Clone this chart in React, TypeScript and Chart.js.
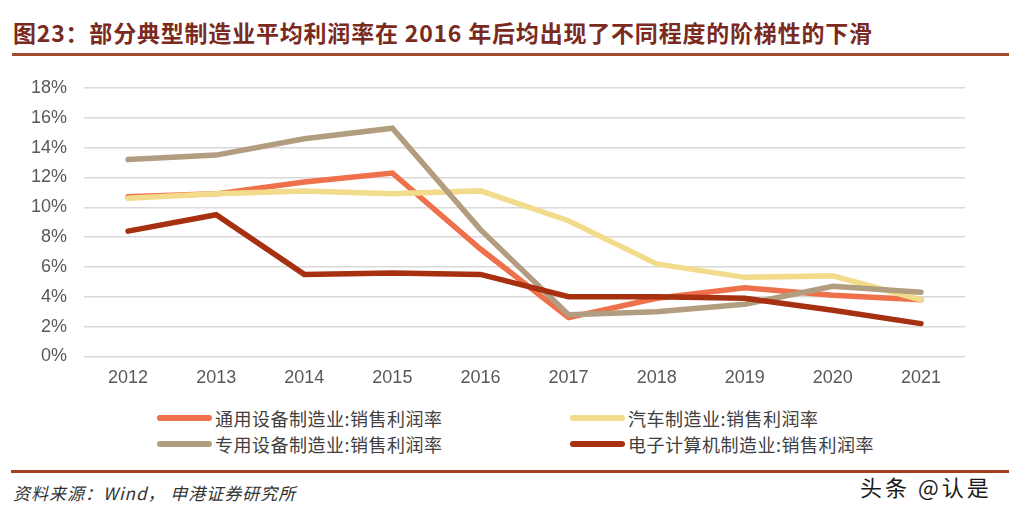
import React, { useEffect, useRef } from "react";
import { Chart, registerables } from "chart.js";

Chart.register(...registerables);

const years = ["2012", "2013", "2014", "2015", "2016", "2017", "2018", "2019", "2020", "2021"];
const generalEquip = [10.7, 10.9, 11.7, 12.3, 7.2, 2.6, 3.9, 4.6, 4.1, 3.8];
const automobile = [10.6, 10.9, 11.1, 10.9, 11.1, 9.1, 6.2, 5.3, 5.4, 3.8];
const specialEquip = [13.2, 13.5, 14.6, 15.3, 8.5, 2.8, 3.0, 3.5, 4.7, 4.3];
const computerElec = [8.4, 9.5, 5.5, 5.6, 5.5, 4.0, 4.0, 3.9, 3.1, 2.2];

const seriesNames = [
  "通用设备制造业:销售利润率",
  "汽车制造业:销售利润率",
  "专用设备制造业:销售利润率",
  "电子计算机制造业:销售利润率",
];
const seriesColors = ["#EE714B", "#F2DC8C", "#B29D80", "#A6300F"];

const title = "图23：部分典型制造业平均利润率在 2016 年后均出现了不同程度的阶梯性的下滑";
const source = "资料来源：Wind， 申港证券研究所";
const watermark = "头条 @认是";

export default function App() {
  const ref = useRef<HTMLCanvasElement | null>(null);

  useEffect(() => {
    if (!ref.current) return;
    const data = [generalEquip, automobile, specialEquip, computerElec];
    const orders = [4, 3, 2, 1];
    const chart = new Chart(ref.current, {
      type: "line",
      data: {
        labels: years,
        datasets: data.map((d, i) => ({
          label: seriesNames[i],
          data: d,
          borderColor: seriesColors[i],
          backgroundColor: seriesColors[i],
          borderWidth: 5.5,
          pointRadius: 0,
          tension: 0,
          borderCapStyle: "round" as const,
          borderJoinStyle: "miter" as const,
          order: orders[i],
        })),
      },
      options: {
        animation: false,
        responsive: false,
        maintainAspectRatio: false,
        layout: { padding: { left: 14, right: 44, top: 28, bottom: 0 } },
        plugins: { legend: { display: false }, tooltip: { enabled: false } },
        scales: {
          x: {
            offset: true,
            grid: { display: false, drawTicks: false },
            border: { display: false },
            ticks: {
              padding: 11,
              color: "#595959",
              font: { family: "'Liberation Sans', Arial, sans-serif", size: 18 },
            },
          },
          y: {
            min: 0,
            max: 18,
            grid: { color: "#D9D9D9", lineWidth: 1.5, drawTicks: false },
            border: { display: false },
            ticks: {
              stepSize: 2,
              padding: 17,
              color: "#595959",
              font: { family: "'Liberation Sans', Arial, sans-serif", size: 18 },
              callback: (v: any) => v + "%",
            },
          },
        },
      },
    });
    return () => chart.destroy();
  }, []);

  const legendItem = (i: number, left: number, cy: number) => (
    <div key={i} style={{ position: "absolute", left, top: cy - 14, height: 28, display: "flex", alignItems: "center" }}>
      <div style={{ width: 55, height: 6, borderRadius: 3, background: seriesColors[i], marginRight: 3 }} />
      <span
        style={{
          display: "inline-block",
          fontFamily: "'Noto Sans CJK SC', sans-serif",
          fontSize: 18,
          letterSpacing: 0.5,
          lineHeight: "28px",
          color: "#404040",
          whiteSpace: "nowrap",
        }}
      >
        {seriesNames[i]}
      </span>
    </div>
  );

  return (
    <div style={{ position: "absolute", left: 0, top: 0, width: 1009, height: 514, background: "#fff", overflow: "hidden" }}>
      <div
        style={{
          position: "absolute",
          left: 13,
          top: 18,
          fontFamily: "'Noto Sans CJK SC', sans-serif",
          fontWeight: 700,
          fontSize: 23,
          letterSpacing: 0.8,
          lineHeight: "28px",
          color: "#7A2A1E",
          whiteSpace: "nowrap",
        }}
      >
        {title}
      </div>
      <div style={{ position: "absolute", left: 12, right: 0, top: 53, height: 3, background: "#A24A2C" }} />
      <canvas ref={ref} width={1009} height={340} style={{ position: "absolute", left: 0, top: 60, width: 1009, height: 340 }} />
      {legendItem(0, 157, 418)}
      {legendItem(1, 570, 418)}
      {legendItem(2, 157, 444)}
      {legendItem(3, 570, 444)}
      <div style={{ position: "absolute", left: 11, right: 0, top: 470, height: 2.5, background: "#A0401E" }} />
      <div
        style={{
          position: "absolute",
          left: 13,
          top: 481,
          fontFamily: "'Noto Sans CJK SC', sans-serif",
          fontStyle: "italic",
          fontSize: 17,
          letterSpacing: 1,
          lineHeight: "24px",
          color: "#333",
          whiteSpace: "nowrap",
        }}
      >
        {source}
      </div>
      <div
        style={{
          position: "absolute",
          left: 860,
          top: 472,
          fontFamily: "'Noto Sans CJK SC', sans-serif",
          fontSize: 22,
          letterSpacing: 3,
          lineHeight: "28px",
          color: "#1a1a1a",
          whiteSpace: "nowrap",
        }}
      >
        {watermark}
      </div>
    </div>
  );
}
